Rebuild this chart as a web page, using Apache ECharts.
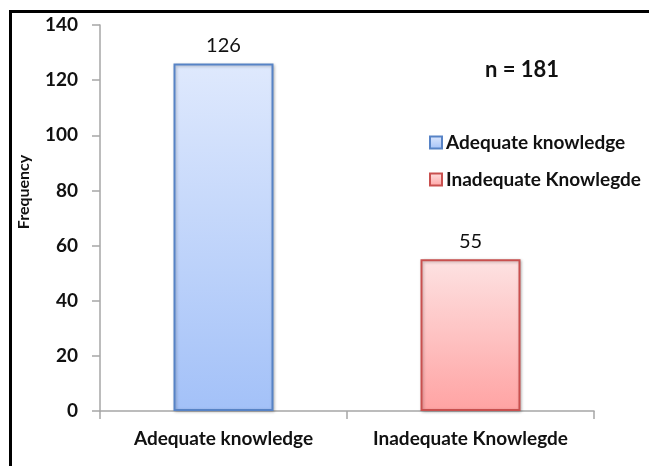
<!DOCTYPE html>
<html>
<head>
<meta charset="utf-8">
<script src="https://cdn.jsdelivr.net/npm/echarts@6/dist/echarts.min.js"></script>
<style>
  html, body { margin: 0; padding: 0; background: #fff; }
  #chart { width: 649px; height: 466px; }
</style>
</head>
<body>
<div id="chart"></div>
<script>
// Knowledge level of respondents
const categories = ['Adequate knowledge', 'Inadequate Knowlegde'];
const adequateValues = [126, '-'];
const inadequateValues = ['-', 55];
const sampleLabel = 'n = 181';
const yAxisTitle = 'Frequency';
const yTicks = { min: 0, max: 140, interval: 20 };

const FONT = 'Lato, "Open Sans", sans-serif';

function grad(top, bottom) {
  return new echarts.graphic.LinearGradient(0, 0, 0, 1, [
    { offset: 0, color: top },
    { offset: 1, color: bottom }
  ]);
}

const chart = echarts.init(document.getElementById('chart'));
chart.setOption({
  animation: false,
  backgroundColor: '#fff',
  grid: { left: 100, right: 55, top: 25, bottom: 55, containLabel: false },
  legend: {
    orient: 'vertical',
    left: 424,
    top: 128,
    itemWidth: 12,
    itemHeight: 12,
    itemGap: 18,
    icon: 'rect',
    textStyle: { fontFamily: FONT, fontWeight: 'bold', fontSize: 19, color: '#111', padding: [0, 0, 0, -1] },
    data: categories
  },
  graphic: [
    { type: 'rect', shape: { x: 9, y: 10, width: 3, height: 460 }, style: { fill: '#000' } },
    { type: 'rect', shape: { x: 9, y: 10, width: 650, height: 3 }, style: { fill: '#000' } },
    {
      type: 'text', x: 522, y: 70,
      style: {
        text: sampleLabel, font: 'bold 22px ' + FONT, fill: '#111',
        align: 'center', verticalAlign: 'middle'
      }
    },
    {
      type: 'text', x: 24, y: 192, rotation: Math.PI / 2,
      style: {
        text: yAxisTitle, font: 'bold 16px ' + FONT, fill: '#111',
        align: 'center', verticalAlign: 'middle'
      }
    }
  ],
  xAxis: {
    type: 'category',
    data: categories,
    axisLine: { lineStyle: { color: '#a6a6a6', width: 1.5 } },
    axisTick: { show: true, length: 8, lineStyle: { color: '#a6a6a6', width: 1.5 } },
    axisLabel: {
      interval: 0, hideOverlap: false,
      fontFamily: FONT, fontWeight: 'bold', fontSize: 19, color: '#111', margin: 18
    }
  },
  yAxis: {
    type: 'value',
    min: yTicks.min,
    max: yTicks.max,
    interval: yTicks.interval,
    splitLine: { show: false },
    axisLine: { show: true, lineStyle: { color: '#a6a6a6', width: 1.5 } },
    axisTick: { show: true, length: 8, inside: false, lineStyle: { color: '#a6a6a6', width: 1.5 } },
    axisLabel: { fontFamily: FONT, fontWeight: 'bold', fontSize: 19, color: '#111', margin: 22 }
  },
  series: [
    {
      name: categories[0],
      type: 'bar',
      data: adequateValues,
      barWidth: 100,
      barGap: '-100%',
      itemStyle: {
        color: grad('#dfe9fd', '#a3c1f8'),
        borderColor: '#5783c6',
        borderWidth: 2,
        shadowColor: 'rgba(0,0,0,0.25)',
        shadowBlur: 3,
        shadowOffsetX: 1,
        shadowOffsetY: 1
      },
      label: {
        show: true, position: 'top', distance: 8,
        fontFamily: FONT, fontSize: 20, color: '#111'
      }
    },
    {
      name: categories[1],
      type: 'bar',
      data: inadequateValues,
      barWidth: 100,
      barGap: '-100%',
      itemStyle: {
        color: grad('#fde2e2', '#ffa3a3'),
        borderColor: '#c9504f',
        borderWidth: 2,
        shadowColor: 'rgba(0,0,0,0.25)',
        shadowBlur: 3,
        shadowOffsetX: 1,
        shadowOffsetY: 1
      },
      label: {
        show: true, position: 'top', distance: 8,
        fontFamily: FONT, fontSize: 20, color: '#111'
      }
    }
  ]
});
</script>
</body>
</html>
